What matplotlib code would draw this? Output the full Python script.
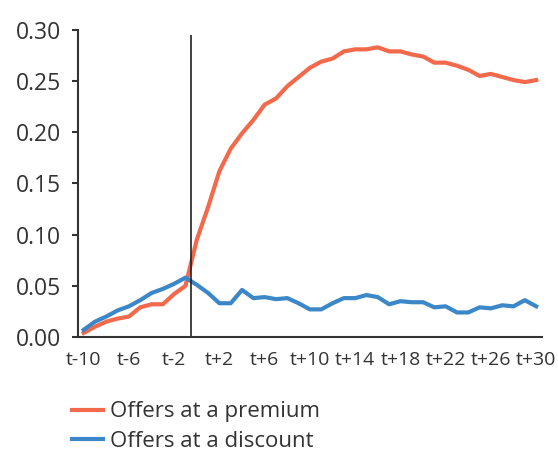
import matplotlib
matplotlib.use("Agg")
import matplotlib.pyplot as plt
import numpy as np

# event time t-10 .. t+30
periods = list(range(-10, 31))
period_labels = ["t" if k == 0 else "t%+d" % k for k in periods]

premium = [0.004, 0.010, 0.015, 0.018, 0.020, 0.029, 0.032, 0.032, 0.042, 0.050,
           0.095, 0.127, 0.162, 0.184, 0.199, 0.212, 0.227, 0.233, 0.245, 0.254,
           0.263, 0.269, 0.272, 0.279, 0.281, 0.281, 0.283, 0.279, 0.279, 0.276,
           0.274, 0.268, 0.268, 0.265, 0.261, 0.255, 0.257, 0.254, 0.251, 0.249,
           0.251]
discount = [0.007, 0.015, 0.020, 0.026, 0.030, 0.036, 0.043, 0.047, 0.052, 0.058,
            0.051, 0.043, 0.033, 0.033, 0.046, 0.038, 0.039, 0.037, 0.038, 0.033,
            0.027, 0.027, 0.033, 0.038, 0.038, 0.041, 0.039, 0.032, 0.035, 0.034,
            0.034, 0.029, 0.030, 0.024, 0.024, 0.029, 0.028, 0.031, 0.030, 0.036,
            0.030]
series_names = ["Offers at a premium", "Offers at a discount"]

RED = "#F2694B"
BLUE = "#3C87C8"
TXT = "#333333"

plt.rcParams['font.family'] = ['Open Sans', 'DejaVu Sans']

fig = plt.figure(figsize=(5.58, 4.53), dpi=100)
ax = fig.add_axes([0.1398, 0.256, 0.971 - 0.1398, 0.934 - 0.256])

x = np.arange(len(periods))
ax.plot(x, premium, color=RED, lw=3, solid_joinstyle="round", label=series_names[0])
ax.plot(x, discount, color=BLUE, lw=3, solid_joinstyle="round", label=series_names[1])

# event line between t-1 and t
ax.vlines(periods.index(0) - 0.5, 0, 0.295, color="#222222", lw=1.2)

ax.set_xlim(-0.5, len(periods) - 0.5)
ax.set_ylim(0, 0.30)
ax.set_yticks(np.arange(0, 0.31, 0.05))
ax.set_yticklabels(["%.2f" % v for v in np.arange(0, 0.31, 0.05)])
ax.set_xticks(x[::4])
ax.set_xticklabels(period_labels[::4], family=['Liberation Sans Narrow', 'Open Sans', 'DejaVu Sans'],
                   fontsize=14, color=TXT)

for s in ["top", "right"]:
    ax.spines[s].set_visible(False)
for s in ["left", "bottom"]:
    ax.spines[s].set_color("#333333")
    ax.spines[s].set_linewidth(1.5)

ax.tick_params(axis="y", length=4, width=1.5, color="#333333", labelsize=16.5,
               labelcolor=TXT, pad=8)
ax.tick_params(axis="x", length=0, pad=10)

fig.legend(loc="center left", bbox_to_anchor=(0.129, 0.058), frameon=False,
           fontsize=16, handlelength=1.4, handletextpad=0.32, labelspacing=0.4,
           borderpad=0, borderaxespad=0, labelcolor=TXT)

fig.savefig("out.png", dpi=100)
